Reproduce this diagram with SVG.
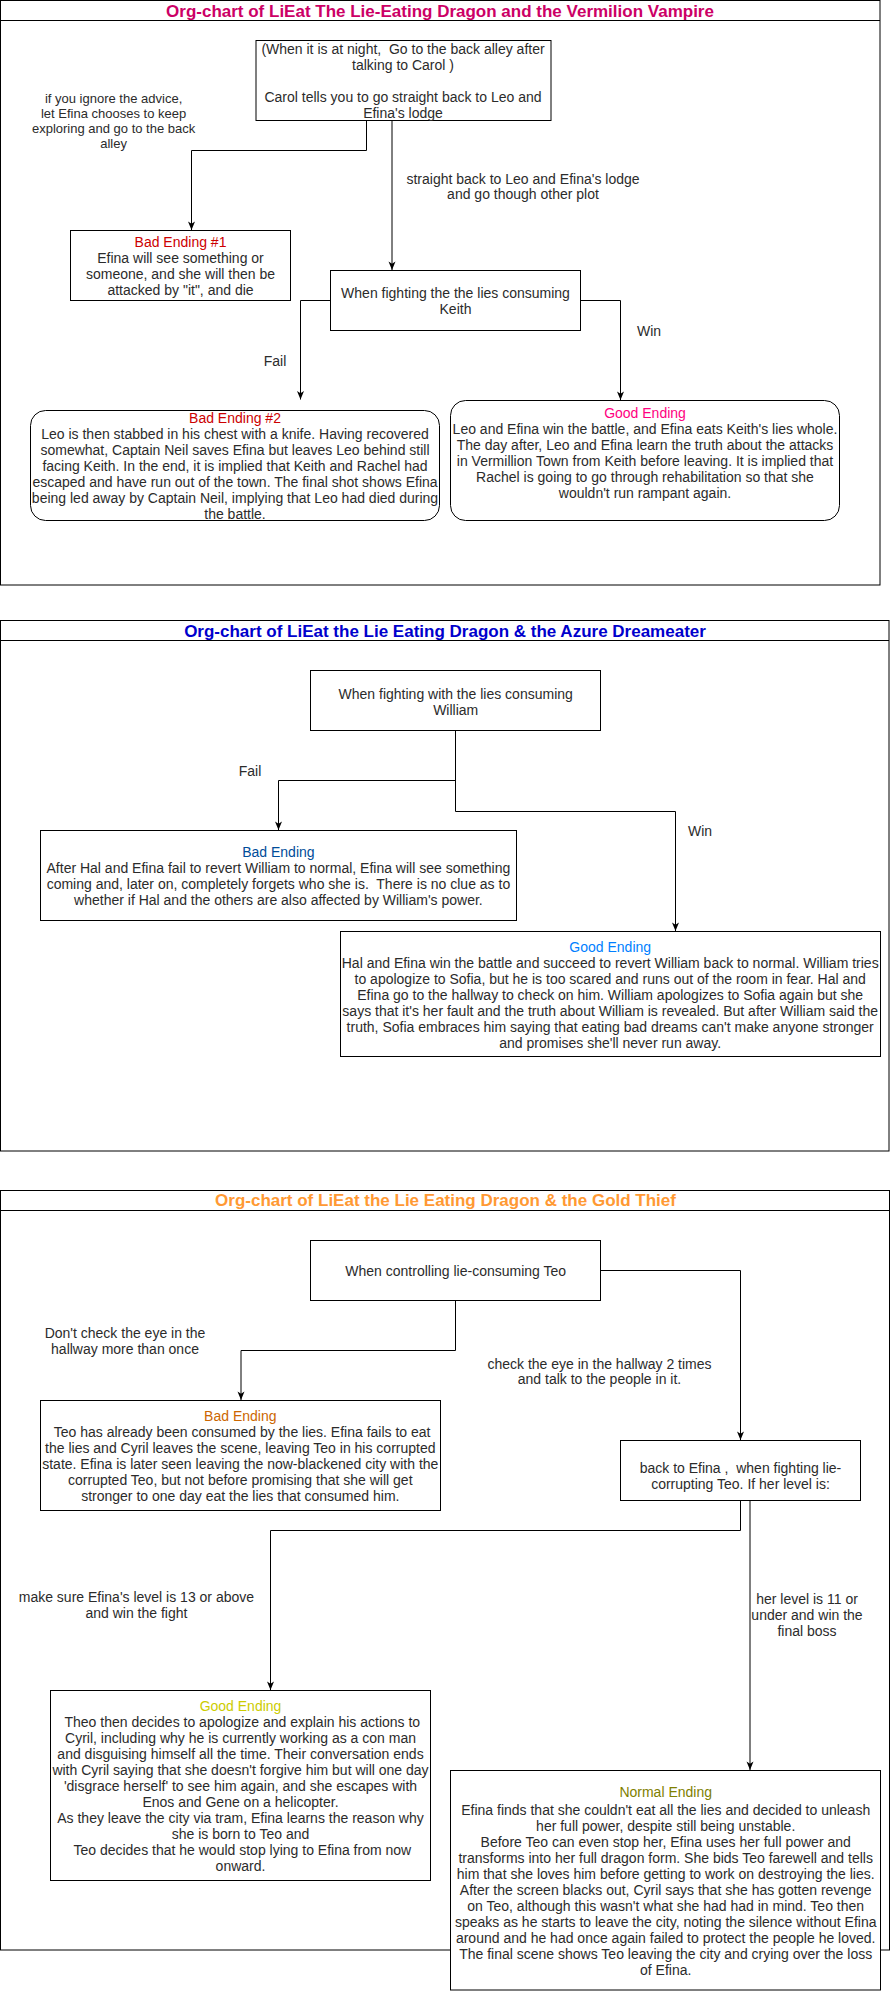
<svg xmlns="http://www.w3.org/2000/svg" width="891" height="1991" viewBox="0 0 891 1991">
<style>
.frame{fill:none;stroke:#000;stroke-width:1}
.box{fill:#fff;stroke:#000;stroke-width:1}
.edge{fill:none;stroke:#000;stroke-width:1;marker-end:url(#arr)}
text{font-family:"Liberation Sans",Arial,Helvetica,sans-serif;text-anchor:middle;fill:#2b2b2b;white-space:pre}
.t{font-size:17px;font-weight:bold}
.n{font-size:14px}
.l{font-size:14px}
.s{font-size:13px}
</style>
<defs>
<marker id="arr" markerWidth="10" markerHeight="10" refX="9" refY="4" orient="auto" markerUnits="userSpaceOnUse">
<path d="M0.5,0.5 L9,4 L0.5,7.5 L2.8,4 Z" fill="#000"/>
</marker>
</defs>
<rect width="891" height="1991" fill="#fff"/>

<g id="section-vermilion">
<rect class="frame" x="0.5" y="0.5" width="879.5" height="584.5"/>
<line x1="0.5" y1="20.5" x2="880" y2="20.5" stroke="#000"/>
<text class="t" x="440" y="16.5" style="fill:#CC0066">Org-chart of LiEat The Lie-Eating Dragon and the Vermilion Vampire</text>
</g>
<g id="section-azure">
<rect class="frame" x="0.5" y="620.5" width="888.5" height="530.5"/>
<line x1="0.5" y1="640.5" x2="889" y2="640.5" stroke="#000"/>
<text class="t" x="445" y="636.5" style="fill:#0000CC">Org-chart of LiEat the Lie Eating Dragon &amp; the Azure Dreameater</text>
</g>
<g id="section-gold">
<rect class="frame" x="0.5" y="1190.5" width="889" height="759.5"/>
<line x1="0.5" y1="1210.5" x2="889.5" y2="1210.5" stroke="#000"/>
<text class="t" x="445.5" y="1206" style="fill:#FF9933">Org-chart of LiEat the Lie Eating Dragon &amp; the Gold Thief</text>
</g>

<g id="connectors">
<path class="edge" d="M366.5,120.5 V150.5 H191.5 V230"/>
<path class="edge" d="M392,120.5 V270"/>
<path class="edge" d="M330.5,300.5 H300.5 V399.5"/>
<path class="edge" d="M580.5,300.5 H620.5 V400"/>
<path class="edge" d="M455.5,730.5 V780.5 H278.5 V830"/>
<path class="edge" d="M455.5,730.5 V811.5 H675.5 V931"/>
<path class="edge" d="M455.5,1300.5 V1350.5 H241 V1400"/>
<path class="edge" d="M600.5,1270.5 H740.5 V1440"/>
<path class="edge" d="M740.5,1500.5 V1530.5 H270.5 V1690"/>
<path class="edge" d="M750,1500.5 V1770"/>
<g id="edge-labels">
<text class="s" x="113.6" y="103.2">if you ignore the advice,</text>
<text class="s" x="113.6" y="118.2">let Efina chooses to keep</text>
<text class="s" x="113.6" y="133.2">exploring and go to the back</text>
<text class="s" x="113.6" y="148.2">alley</text>
<text class="l" x="523" y="183.7">straight back to Leo and Efina's lodge</text>
<text class="l" x="523" y="199.3">and go though other plot</text>
<text class="l" x="275" y="366.3">Fail</text>
<text class="l" x="649" y="336">Win</text>
<text class="l" x="250" y="776.3">Fail</text>
<text class="l" x="700" y="836.3">Win</text>
<text class="l" x="125" y="1338">Don't check the eye in the</text>
<text class="l" x="125" y="1354.3">hallway more than once</text>
<text class="l" x="599.5" y="1368.7">check the eye in the hallway 2 times</text>
<text class="l" x="599.5" y="1384.3">and talk to the people in it.</text>
<text class="l" x="136.4" y="1602.3">make sure Efina's level is 13 or above</text>
<text class="l" x="136.4" y="1618.3">and win the fight</text>
<text class="l" x="807" y="1604.3">her level is 11 or</text>
<text class="l" x="807" y="1620.3">under and win the</text>
<text class="l" x="807" y="1636.3">final boss</text>
</g>
</g>

<g id="node-night">
<rect class="box" x="256" y="40.5" width="295" height="80"/>
<text class="n" x="403" y="54.3">(When it is at night,  Go to the back alley after</text>
<text class="n" x="403" y="70.3">talking to Carol )</text>
<text class="n" x="403" y="102.3">Carol tells you to go straight back to Leo and</text>
<text class="n" x="403" y="118.3">Efina's lodge</text>
</g>
<g id="node-bad1">
<rect class="box" x="70.5" y="230.5" width="220" height="70"/>
<text class="n" x="180.5" y="247.3" style="fill:#CC0000">Bad Ending #1</text>
<text class="n" x="180.5" y="263.3">Efina will see something or</text>
<text class="n" x="180.5" y="279.3">someone, and she will then be</text>
<text class="n" x="180.5" y="295.3">attacked by "it", and die</text>
</g>
<g id="node-keith">
<rect class="box" x="330.5" y="270.5" width="250" height="60"/>
<text class="n" x="455.5" y="298.3">When fighting the the lies consuming</text>
<text class="n" x="455.5" y="314.3">Keith</text>
</g>
<g id="node-bad2">
<rect class="box" x="30.5" y="410.5" width="409" height="110" rx="15" ry="15"/>
<text class="n" x="235" y="423" style="fill:#CC0000">Bad Ending #2</text>
<text class="n" x="235" y="439">Leo is then stabbed in his chest with a knife. Having recovered</text>
<text class="n" x="235" y="455">somewhat, Captain Neil saves Efina but leaves Leo behind still</text>
<text class="n" x="235" y="471">facing Keith. In the end, it is implied that Keith and Rachel had</text>
<text class="n" x="235" y="487">escaped and have run out of the town. The final shot shows Efina</text>
<text class="n" x="235" y="503">being led away by Captain Neil, implying that Leo had died during</text>
<text class="n" x="235" y="519">the battle.</text>
</g>
<g id="node-good1">
<rect class="box" x="450.5" y="400.5" width="389" height="120" rx="15" ry="15"/>
<text class="n" x="645" y="418.3" style="fill:#FF0080">Good Ending</text>
<text class="n" x="645" y="434.3">Leo and Efina win the battle, and Efina eats Keith's lies whole.</text>
<text class="n" x="645" y="450.3">The day after, Leo and Efina learn the truth about the attacks</text>
<text class="n" x="645" y="466.3">in Vermillion Town from Keith before leaving. It is implied that</text>
<text class="n" x="645" y="482.3">Rachel is going to go through rehabilitation so that she</text>
<text class="n" x="645" y="498.3">wouldn't run rampant again.</text>
</g>

<g id="node-william">
<rect class="box" x="310.5" y="670.5" width="290" height="60"/>
<text class="n" x="455.7" y="698.7">When fighting with the lies consuming</text>
<text class="n" x="455.7" y="714.5">William</text>
</g>
<g id="node-bad-azure">
<rect class="box" x="40.5" y="830.5" width="476" height="90"/>
<text class="n" x="278.4" y="857.3" style="fill:#004C99">Bad Ending</text>
<text class="n" x="278.4" y="873.3">After Hal and Efina fail to revert William to normal, Efina will see something</text>
<text class="n" x="278.4" y="889.3">coming and, later on, completely forgets who she is.  There is no clue as to</text>
<text class="n" x="278.4" y="905.3">whether if Hal and the others are also affected by William's power.</text>
</g>
<g id="node-good-azure">
<rect class="box" x="340.5" y="931.5" width="540" height="125"/>
<text class="n" x="610.2" y="952.3" style="fill:#007FFF">Good Ending</text>
<text class="n" x="610.2" y="968.3">Hal and Efina win the battle and succeed to revert William back to normal. William tries</text>
<text class="n" x="610.2" y="984.3">to apologize to Sofia, but he is too scared and runs out of the room in fear. Hal and</text>
<text class="n" x="610.2" y="1000.3">Efina go to the hallway to check on him. William apologizes to Sofia again but she</text>
<text class="n" x="610.2" y="1016.3">says that it's her fault and the truth about William is revealed. But after William said the</text>
<text class="n" x="610.2" y="1032.3">truth, Sofia embraces him saying that eating bad dreams can't make anyone stronger</text>
<text class="n" x="610.2" y="1048.3">and promises she'll never run away.</text>
</g>

<g id="node-teo">
<rect class="box" x="310.5" y="1240.5" width="290" height="60"/>
<text class="n" x="455.7" y="1276.3">When controlling lie-consuming Teo</text>
</g>
<g id="node-bad-gold">
<rect class="box" x="40.5" y="1400.5" width="400" height="110"/>
<text class="n" x="240.3" y="1421" style="fill:#CC6600">Bad Ending</text>
<text class="n" x="240.3" y="1437.3"> Teo has already been consumed by the lies. Efina fails to eat</text>
<text class="n" x="240.3" y="1453.3">the lies and Cyril leaves the scene, leaving Teo in his corrupted</text>
<text class="n" x="240.3" y="1469.3">state. Efina is later seen leaving the now-blackened city with the</text>
<text class="n" x="240.3" y="1485.3">corrupted Teo, but not before promising that she will get</text>
<text class="n" x="240.3" y="1501.3">stronger to one day eat the lies that consumed him.</text>
</g>
<g id="node-efina-fight">
<rect class="box" x="620.5" y="1440.5" width="240" height="60"/>
<text class="n" x="740.5" y="1472.7">back to Efina ,  when fighting lie-</text>
<text class="n" x="740.5" y="1489.3">corrupting Teo. If her level is:</text>
</g>
<g id="node-good-gold">
<rect class="box" x="50.5" y="1690.5" width="380" height="190"/>
<text class="n" x="240.5" y="1711" style="fill:#CCCC00">Good Ending</text>
<text class="n" x="240.5" y="1727"> Theo then decides to apologize and explain his actions to</text>
<text class="n" x="240.5" y="1743">Cyril, including why he is currently working as a con man</text>
<text class="n" x="240.5" y="1759">and disguising himself all the time. Their conversation ends</text>
<text class="n" x="240.5" y="1775">with Cyril saying that she doesn't forgive him but will one day</text>
<text class="n" x="240.5" y="1791">'disgrace herself' to see him again, and she escapes with</text>
<text class="n" x="240.5" y="1807">Enos and Gene on a helicopter.</text>
<text class="n" x="240.5" y="1823">As they leave the city via tram, Efina learns the reason why</text>
<text class="n" x="240.5" y="1839">she is born to Teo and</text>
<text class="n" x="240.5" y="1855"> Teo decides that he would stop lying to Efina from now</text>
<text class="n" x="240.5" y="1871">onward.</text>
</g>
<g id="node-normal-gold">
<rect class="box" x="450.5" y="1770.5" width="430" height="219.5"/>
<text class="n" x="665.7" y="1797.3" style="fill:#808000">Normal Ending</text>
<text class="n" x="665.7" y="1814.7">Efina finds that she couldn't eat all the lies and decided to unleash</text>
<text class="n" x="665.7" y="1830.7">her full power, despite still being unstable.</text>
<text class="n" x="665.7" y="1846.7">Before Teo can even stop her, Efina uses her full power and</text>
<text class="n" x="665.7" y="1862.7">transforms into her full dragon form. She bids Teo farewell and tells</text>
<text class="n" x="665.7" y="1878.7">him that she loves him before getting to work on destroying the lies.</text>
<text class="n" x="665.7" y="1894.7">After the screen blacks out, Cyril says that she has gotten revenge</text>
<text class="n" x="665.7" y="1910.7">on Teo, although this wasn't what she had had in mind. Teo then</text>
<text class="n" x="665.7" y="1926.7">speaks as he starts to leave the city, noting the silence without Efina</text>
<text class="n" x="665.7" y="1942.7">around and he had once again failed to protect the people he loved.</text>
<text class="n" x="665.7" y="1958.7">The final scene shows Teo leaving the city and crying over the loss</text>
<text class="n" x="665.7" y="1974.7">of Efina.</text>
</g>
</svg>
